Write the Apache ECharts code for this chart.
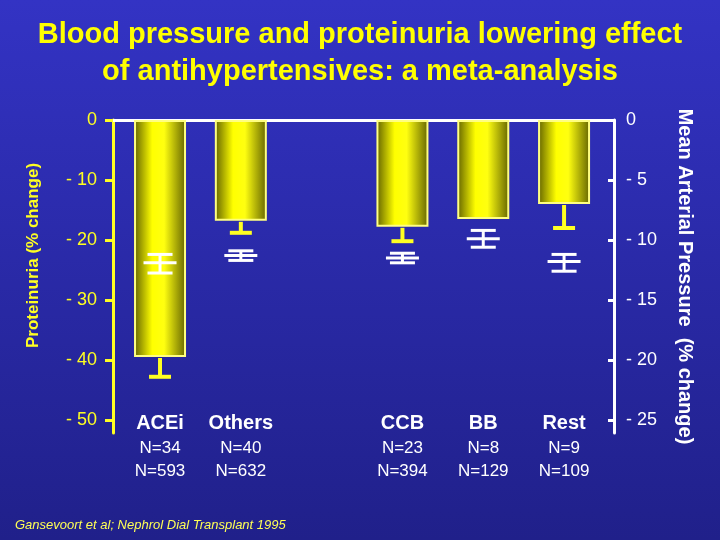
<!DOCTYPE html>
<html>
<head>
<meta charset="utf-8">
<title>Blood pressure and proteinuria lowering effect</title>
<script src="https://cdn.jsdelivr.net/npm/echarts@6/dist/echarts.min.js"></script>
<style>
html, body { margin: 0; padding: 0; }
#chart { width: 720px; height: 540px; }
</style>
</head>
<body>
<div id="chart"></div>
<script>
// drug classes; the empty slot is the gap between Others and CCB
const categories = ['ACEi', 'Others', '', 'CCB', 'BB', 'Rest']
const nStudies = [34, 40, null, 23, 8, 9]
const nPatients = [593, 632, null, 394, 129, 109]
// proteinuria, % change (left axis)
const proteinuria = [-39.5, -16.8, null, -17.8, -16.5, -14]
const proteinuriaErr = [-42.8, -18.8, null, -20.2, null, -18]
// mean arterial pressure, % change (right axis): mean and its error range
const mapMean = [-11.9, -11.3, null, -11.5, -9.9, -11.8]
const mapHigh = [-11.2, -10.9, null, -11.1, -9.2, -11.2]
const mapLow = [-12.75, -11.7, null, -11.9, -10.6, -12.6]
const leftTicks = [0, -10, -20, -30, -40, -50]
const rightTicks = [0, -5, -10, -15, -20, -25]

const FONT = "'Liberation Sans', Arial, sans-serif"
const YELLOW = '#ffff22'
const tickText = v => (v === 0 ? '0' : '- ' + Math.abs(v))

const slots = categories.map((c, i) => i).filter(i => categories[i] !== '')

const chart = echarts.init(document.getElementById('chart'))

const barFill = new echarts.graphic.LinearGradient(0, 0, 1, 0, [
  { offset: 0, color: '#626200' },
  { offset: 0.35, color: '#ffff00' },
  { offset: 0.58, color: '#ffff10' },
  { offset: 1, color: '#646400' }
])

chart.setOption({
  backgroundColor: new echarts.graphic.LinearGradient(0, 0, 0, 1, [
    { offset: 0, color: '#3333c4' },
    { offset: 1, color: '#20208a' }
  ]),
  title: [
    {
      text: 'Blood pressure and proteinuria lowering effect\nof antihypertensives: a meta-analysis',
      left: 'center',
      top: 11,
      textStyle: {
        color: '#ffff00',
        fontFamily: FONT,
        fontSize: 29,
        fontWeight: 'bold',
        lineHeight: 37,
        textShadowColor: 'rgba(0,0,0,0.85)',
        textShadowOffsetX: 2,
        textShadowOffsetY: 2
      }
    },
    {
      text: 'Gansevoort et al; Nephrol Dial Transplant 1995',
      left: 10,
      top: 514,
      textStyle: {
        color: '#ffff55',
        fontFamily: FONT,
        fontSize: 13,
        fontStyle: 'italic',
        fontWeight: 'normal'
      }
    }
  ],
  // the axis lines run a little past the last tick, as in the slide
  grid: { left: 113, right: 106, top: 120, bottom: 107, outerBoundsMode: 'none' },
  xAxis: [
    {
      type: 'value',
      min: -0.582,
      max: 5.618,
      axisLine: { show: false, onZero: false },
      axisTick: { show: false },
      splitLine: { show: false },
      axisLabel: {
        customValues: slots,
        margin: -24,
        formatter: v => `{name|${categories[v]}}\n{n|N=${nStudies[v]}}\n{n|N=${nPatients[v]}}`,
        rich: {
          name: { color: '#ffffff', fontFamily: FONT, fontSize: 20, fontWeight: 'bold', lineHeight: 28 },
          n: { color: '#ffffff', fontFamily: FONT, fontSize: 17, lineHeight: 23 }
        }
      }
    },
    {
      type: 'value',
      position: 'top',
      min: -0.582,
      max: 5.618,
      axisLine: { show: true, onZero: false, lineStyle: { color: '#ffffff', width: 3 } },
      axisTick: { show: false },
      axisLabel: { show: false },
      splitLine: { show: false }
    }
  ],
  yAxis: [
    {
      type: 'value',
      position: 'left',
      min: -52.17,
      max: 0,
      name: 'Proteinuria (% change)',
      nameLocation: 'middle',
      nameGap: 71,
      nameTextStyle: { color: YELLOW, fontFamily: FONT, fontSize: 17, fontWeight: 'bold', padding: [0, 0, 0, 42] },
      axisLine: { show: true, onZero: false, lineStyle: { color: YELLOW, width: 3 } },
      axisTick: { show: true, customValues: leftTicks, length: 8, lineStyle: { color: YELLOW, width: 3 } },
      axisLabel: { customValues: leftTicks, color: YELLOW, fontFamily: FONT, fontSize: 18, margin: 16, formatter: tickText },
      splitLine: { show: false }
    },
    {
      type: 'value',
      position: 'right',
      min: -26.08,
      max: 0,
      name: 'Mean Arterial Pressure  (% change)',
      nameLocation: 'middle',
      nameRotate: -90,
      nameGap: 61,
      nameTextStyle: { color: '#ffffff', fontFamily: FONT, fontSize: 20, fontWeight: 'bold' },
      axisLine: { show: true, onZero: false, lineStyle: { color: '#ffffff', width: 3 } },
      axisTick: { show: true, customValues: rightTicks, inside: true, length: 6, lineStyle: { color: '#ffffff', width: 3 } },
      axisLabel: { customValues: rightTicks, color: '#ffffff', fontFamily: FONT, fontSize: 18, margin: 12, formatter: tickText },
      splitLine: { show: false }
    }
  ],
  series: [
    {
      name: 'Proteinuria',
      type: 'bar',
      xAxisIndex: 0,
      yAxisIndex: 0,
      barWidth: 52,
      data: slots.map(i => [i, proteinuria[i]]),
      itemStyle: { color: barFill, borderColor: '#ffff80', borderWidth: 2 },
      z: 2
    },
    {
      name: 'Proteinuria error',
      type: 'custom',
      xAxisIndex: 0,
      yAxisIndex: 0,
      data: slots.filter(i => proteinuriaErr[i] != null).map(i => [i, proteinuria[i], proteinuriaErr[i]]),
      renderItem: (params, api) => {
        const x = api.value(0)
        const top = api.coord([x, api.value(1)])
        const bot = api.coord([x, api.value(2)])
        const style = { stroke: YELLOW, lineWidth: 4 }
        return {
          type: 'group',
          children: [
            { type: 'line', shape: { x1: top[0], y1: top[1] + 1, x2: bot[0], y2: bot[1] }, style },
            { type: 'line', shape: { x1: bot[0] - 11, y1: bot[1], x2: bot[0] + 11, y2: bot[1] }, style }
          ]
        }
      },
      z: 3
    },
    {
      name: 'Mean arterial pressure',
      type: 'custom',
      xAxisIndex: 0,
      yAxisIndex: 1,
      data: slots.map(i => [i, mapMean[i], mapHigh[i], mapLow[i]]),
      renderItem: (params, api) => {
        const x = api.value(0)
        const mid = api.coord([x, api.value(1)])
        const hi = api.coord([x, api.value(2)])
        const lo = api.coord([x, api.value(3)])
        const style = { stroke: '#ffffff', lineWidth: 3 }
        const cx = mid[0]
        return {
          type: 'group',
          children: [
            { type: 'line', shape: { x1: cx, y1: hi[1], x2: cx, y2: lo[1] }, style },
            { type: 'line', shape: { x1: cx - 12.5, y1: hi[1], x2: cx + 12.5, y2: hi[1] }, style },
            { type: 'line', shape: { x1: cx - 16.5, y1: mid[1], x2: cx + 16.5, y2: mid[1] }, style },
            { type: 'line', shape: { x1: cx - 12.5, y1: lo[1], x2: cx + 12.5, y2: lo[1] }, style }
          ]
        }
      },
      z: 4
    }
  ]
})
</script>
</body>
</html>
